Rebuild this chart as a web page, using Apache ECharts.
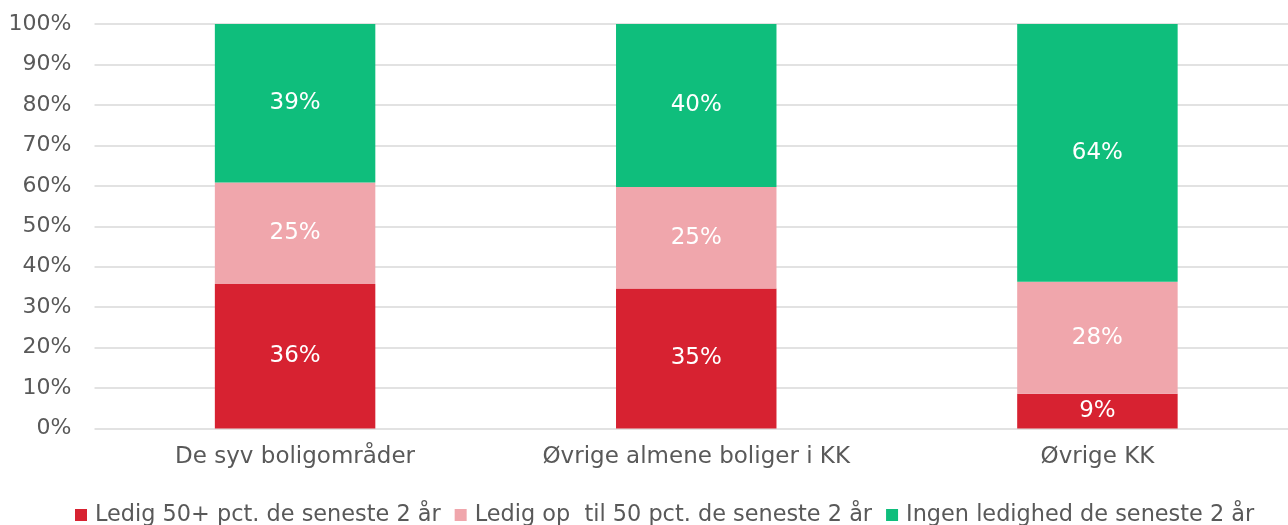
<!DOCTYPE html>
<html>
<head>
<meta charset="utf-8">
<script src="https://cdn.jsdelivr.net/npm/echarts@6/dist/echarts.min.js"></script>
<style>
  html, body { margin: 0; padding: 0; background: #fff; overflow: hidden; }
  #chart { width: 1298px; height: 525px; }
</style>
</head>
<body>
<div id="chart"></div>
<script>
// data
const categories = ['De syv boligområder', 'Øvrige almene boliger i KK', 'Øvrige KK'];
const seriesNames = [
  'Ledig 50+ pct. de seneste 2 år',
  'Ledig op  til 50 pct. de seneste 2 år',
  'Ingen ledighed de seneste 2 år'
];
const ledig50plus = [35.7, 34.6, 8.6];
const ledigTil50 = [25.1, 25.1, 27.7];
const ingenLedighed = [39.2, 40.3, 63.7];
const colors = ['#D72231', '#F0A6AC', '#0FBE7C'];

const fontFamily = '"DejaVu Sans", sans-serif';
const values = [ledig50plus, ledigTil50, ingenLedighed];

// chart div is 10px wider than the window: the last category runs past the right edge
const chart = echarts.init(document.getElementById('chart'));

chart.setOption({
  animation: false,
  grid: { left: 94.5, right: 0, top: 24, bottom: 96.5 },
  legend: {
    top: 499,
    left: 70,
    itemWidth: 12,
    itemHeight: 12,
    itemGap: 14,
    icon: 'rect',
    textStyle: { fontFamily, fontSize: 22.4, color: '#595959', padding: [0, 0, 0, 3] },
    data: seriesNames
  },
  xAxis: {
    type: 'category',
    data: categories,
    axisLine: { show: false },
    axisTick: { show: false },
    axisLabel: { fontFamily, fontSize: 23, color: '#595959', margin: 17 }
  },
  yAxis: {
    type: 'value',
    min: 0,
    max: 100,
    interval: 10,
    axisLabel: {
      formatter: '{value}%',
      fontFamily, fontSize: 22, color: '#595959', margin: 23
    },
    splitLine: { lineStyle: { color: '#D9D9D9', width: 1.5 } }
  },
  series: values.map((v, i) => ({
    name: seriesNames[i],
    type: 'bar',
    stack: 'total',
    barWidth: '40%',
    data: v,
    itemStyle: { color: colors[i] },
    label: {
      show: true,
      position: 'inside',
      color: '#fff',
      fontFamily,
      fontSize: 23,
      formatter: p => Math.round(p.value) + '%'
    }
  }))
});
</script>
</body>
</html>
